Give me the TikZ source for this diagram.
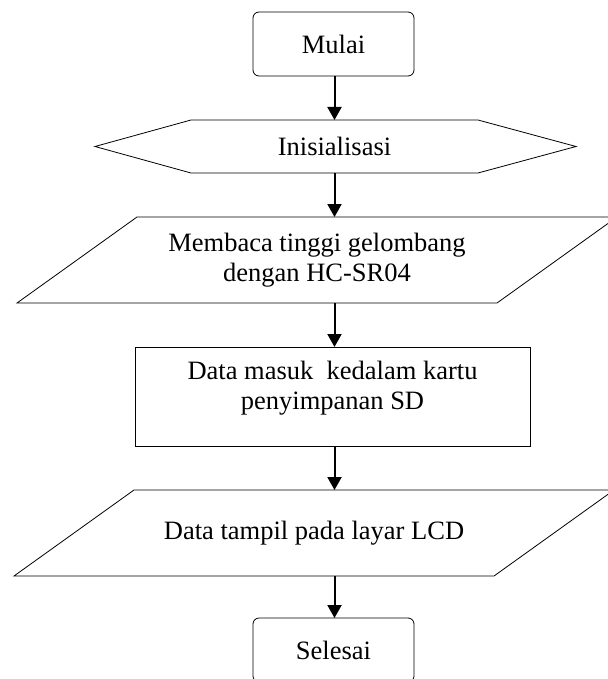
\documentclass[tikz,border=0pt]{standalone}
\usepackage{fontspec}
\setmainfont{Liberation Serif}
\usetikzlibrary{arrows.meta}
\begin{document}
\begin{tikzpicture}[x=1pt,y=-1pt,
  shape line/.style={draw=black,line width=0.8pt},
  txt/.style={font=\fontsize{26.5}{30}\selectfont, align=center, inner sep=0pt, outer sep=0pt},
  termbox/.style={shape line, txt, rectangle, rounded corners=6pt, minimum width=161pt, minimum height=64pt},
  hexbox/.style={txt, rectangle, minimum width=287pt, minimum height=53pt},
  iobox/.style={txt, rectangle, minimum width=480pt, minimum height=86pt},
  procbox/.style={shape line, rectangle, outer sep=0pt, minimum width=395pt, minimum height=99pt},
  flow/.style={line width=2pt, -{Triangle[length=13pt,width=14pt]}}
]
\useasboundingbox (0,0) rectangle (607,679);
% Start
\node[termbox] (mulai) at (333.5,44) {Mulai};
% Initialisation (hexagon)
\node[hexbox] (init) at (334.5,146.5) {Inisialisasi};
\draw[shape line] (init.north west) -- (init.north east) -- ++(98,26.5) -- (init.south east) -- (init.south west) -- ++(-96,-26.5) -- cycle;
% Input parallelogram
\node[iobox] (baca) at (317,260) {Membaca tinggi gelombang\\dengan HC-SR04};
\draw[shape line] ([xshift=-60pt]baca.south west) -- ([xshift=-60pt]baca.south east) -- ([xshift=60pt]baca.north east) -- ([xshift=60pt]baca.north west) -- cycle;
% Process
\node[procbox] (sd) at (332.5,396.5) {};
\node[txt] (sdtext) at ([yshift=8pt]sd.center) {Data masuk\ \ kedalam kartu\\penyimpanan SD};
% Output parallelogram
\node[iobox] (lcd) at (314,533) {Data tampil pada layar LCD};
\draw[shape line] ([xshift=-60pt]lcd.south west) -- ([xshift=-60pt]lcd.south east) -- ([xshift=60pt]lcd.north east) -- ([xshift=60pt]lcd.north west) -- cycle;
% End
\node[termbox] (selesai) at (333.5,650) {Selesai};
% Connectors
\draw[flow] (init.north |- mulai.south) -- (init.north);
\draw[flow] (init.south) -- (init.south |- baca.north);
\draw[flow] (init.south |- baca.south) -- (init.south |- sd.north);
\draw[flow] (init.south |- sd.south) -- (init.south |- lcd.north);
\draw[flow] (init.south |- lcd.south) -- (init.south |- selesai.north);
\end{tikzpicture}
\end{document}
